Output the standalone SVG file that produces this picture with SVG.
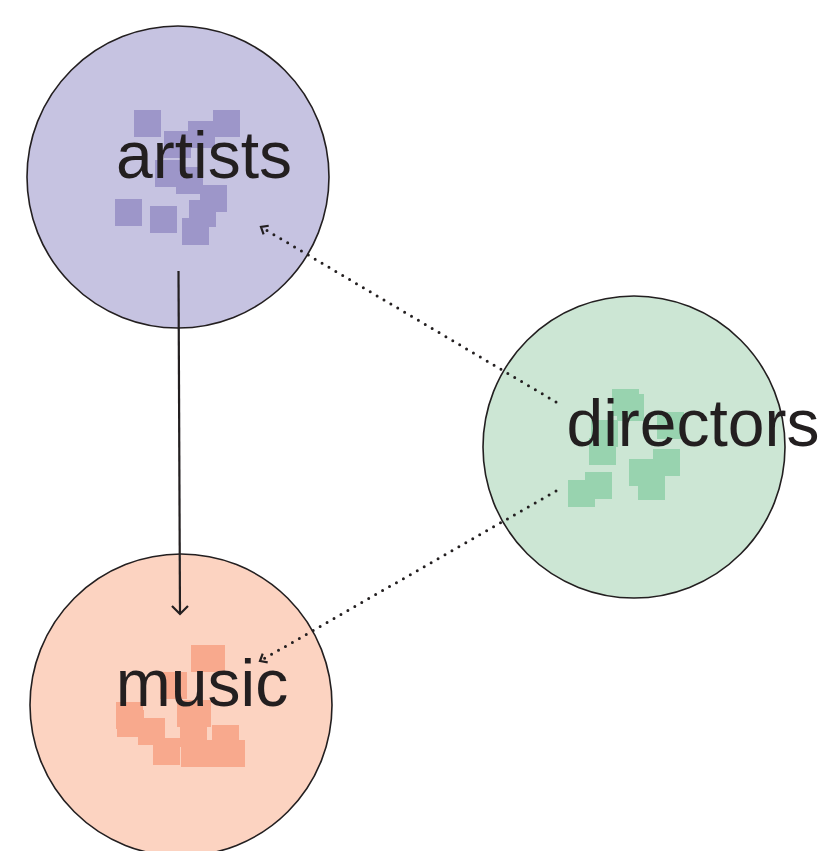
<svg xmlns="http://www.w3.org/2000/svg" width="819" height="851" viewBox="0 0 819 851">
<defs>
<style>
.circ{stroke:#231f20;stroke-width:1.6}
.lbl{font-family:"Liberation Sans",Arial,sans-serif;font-size:66px;fill:#231f20;text-anchor:middle}
.a rect{fill:#9d96c9}
.d rect{fill:#98d3af}
.m rect{fill:#f8a98d}
.solid{stroke:#231f20;stroke-width:2.2;fill:none}
.dot{stroke:#231f20;stroke-width:3;fill:none;stroke-dasharray:0 8;stroke-linecap:round}
</style>
<marker id="ah" markerUnits="userSpaceOnUse" markerWidth="20" markerHeight="20" refX="10" refY="10" orient="auto">
<path d="M2,2 L10,10 L2,18" fill="none" stroke="#231f20" stroke-width="2.2"/>
</marker>
<marker id="ahs" markerUnits="userSpaceOnUse" markerWidth="16" markerHeight="16" refX="8" refY="8" orient="auto">
<path d="M2,3 L8,8 L2,13" fill="none" stroke="#231f20" stroke-width="2.2"/>
</marker>
</defs>
<rect width="819" height="851" fill="#ffffff"/>
<g id="artists">
<circle class="circ" cx="178" cy="177" r="151" fill="#c6c3e1"/>
<g class="a">
<rect x="134" y="110" width="27" height="27"/>
<rect x="213" y="110" width="27" height="27"/>
<rect x="188" y="121" width="27" height="27"/>
<rect x="164" y="131" width="27" height="27"/>
<rect x="155" y="160" width="27" height="27"/>
<rect x="176" y="167" width="27" height="27"/>
<rect x="200" y="185" width="27" height="27"/>
<rect x="115" y="199" width="27" height="27"/>
<rect x="150" y="206" width="27" height="27"/>
<rect x="189" y="200" width="27" height="27"/>
<rect x="182" y="218" width="27" height="27"/>
</g>
<text class="lbl" x="204" y="178">artists</text>
</g>
<g id="directors">
<circle class="circ" cx="634" cy="447" r="151" fill="#cce6d4"/>
<g class="d">
<rect x="612" y="389" width="27" height="27"/>
<rect x="617" y="394" width="27" height="27"/>
<rect x="657" y="412" width="27" height="27"/>
<rect x="591" y="420" width="27" height="27"/>
<rect x="589" y="438" width="27" height="27"/>
<rect x="653" y="449" width="27" height="27"/>
<rect x="629" y="459" width="27" height="27"/>
<rect x="638" y="473" width="27" height="27"/>
<rect x="585" y="472" width="27" height="27"/>
<rect x="568" y="480" width="27" height="27"/>
</g>
<text class="lbl" x="693" y="446">directors</text>
</g>
<g id="music">
<circle class="circ" cx="181" cy="705" r="151" fill="#fcd3c1"/>
<g class="m">
<rect x="191" y="645" width="27" height="27"/>
<rect x="198" y="645" width="27" height="27"/>
<rect x="160" y="672" width="27" height="27"/>
<rect x="177" y="700" width="27" height="27"/>
<rect x="184" y="700" width="27" height="27"/>
<rect x="116" y="702" width="27" height="27"/>
<rect x="117" y="710" width="27" height="27"/>
<rect x="138" y="718" width="27" height="27"/>
<rect x="180" y="720" width="27" height="27"/>
<rect x="153" y="738" width="27" height="27"/>
<rect x="181" y="740" width="27" height="27"/>
<rect x="195" y="740" width="27" height="27"/>
<rect x="212" y="725" width="27" height="27"/>
<rect x="218" y="740" width="27" height="27"/>
</g>
<rect x="165" y="727" width="13" height="11" fill="#fcd3c1"/>
<text class="lbl" x="202" y="706">music</text>
</g>
<g id="connectors">
<path class="solid" d="M178.5,271 L180,614" marker-end="url(#ah)"/>
<path class="dot" d="M556,402 L261,227" marker-end="url(#ahs)"/>
<path class="dot" d="M556,491 L260,661" marker-end="url(#ahs)"/>
</g>
</svg>
